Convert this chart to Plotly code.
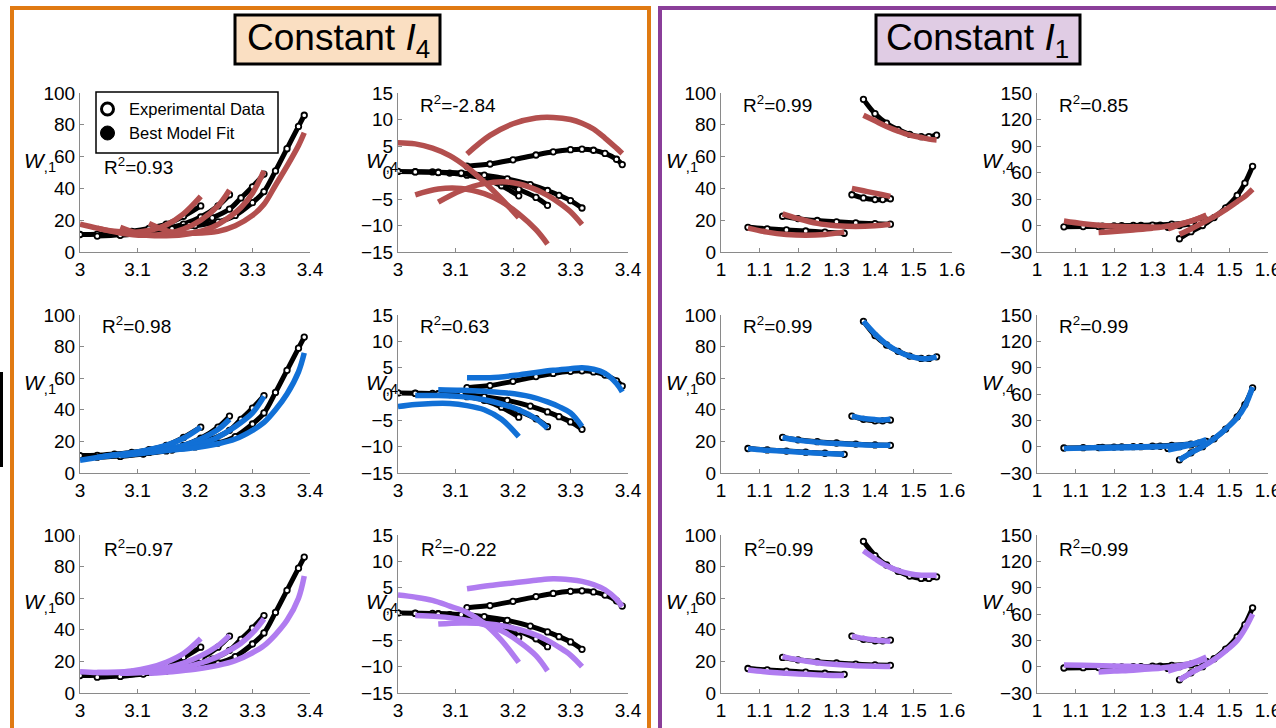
import plotly.graph_objects as go

# ---------------- tick definitions ----------------
I1_TICKVALS = [3.0, 3.1, 3.2, 3.3, 3.4]
I1_TICKTEXT = ["3", "3.1", "3.2", "3.3", "3.4"]
I4_TICKVALS = [1.0, 1.1, 1.2, 1.3, 1.4, 1.5, 1.6]
I4_TICKTEXT = ["1", "1.1", "1.2", "1.3", "1.4", "1.5", "1.6"]
W1_TICKS = [0, 20, 40, 60, 80, 100]
W4_TICKS_I4 = [-15, -10, -5, 0, 5, 10, 15]
W4_TICKS_I1 = [-30, 0, 30, 60, 90, 120, 150]

# ---------------- Constant I4 (x = I1) ----------------
EXP_I4_X = [
    [3.00, 3.03, 3.06, 3.09, 3.12, 3.15, 3.18, 3.21],
    [3.03, 3.07, 3.11, 3.15, 3.18, 3.21, 3.24, 3.26],
    [3.07, 3.11, 3.15, 3.19, 3.23, 3.26, 3.28, 3.30, 3.32],
    [3.12, 3.16, 3.20, 3.24, 3.27, 3.30, 3.32, 3.34, 3.36, 3.38, 3.39],
]
EXP_I4_W1 = [
    [11, 11.2, 12, 13, 14.8, 17.5, 22.5, 29],
    [10, 10.8, 12.3, 14.8, 17.5, 22, 29, 36],
    [10.5, 12, 14, 17, 21.5, 27, 34, 41, 49],
    [13, 14.5, 16.5, 19, 23, 31, 38, 51, 65, 79, 86],
]
EXP_I4_W4 = [
    [0.2, 0.15, 0.1, -0.1, -0.5, -1.2, -2.5, -4.4],
    [0.1, 0.05, -0.2, -0.9, -1.8, -3.2, -4.7, -6.2],
    [0, -0.1, -0.5, -1.2, -2.3, -3.4, -4.3, -5.3, -6.7],
    [1.2, 1.6, 2.4, 3.3, 3.9, 4.3, 4.4, 4.2, 3.6, 2.5, 1.5],
]
FIT_RED_I4_W1 = [
    [17.5, 15, 13, 12.3, 13.5, 17, 24, 35],
    [15, 12, 10.5, 11.5, 14.5, 20, 29, 39],
    [15.5, 10.8, 10.2, 11.5, 15.5, 22, 28, 37, 51],
    [18, 12.5, 11.8, 13, 16.5, 23, 30, 42, 54, 67, 75],
]
FIT_RED_I4_W4 = [
    [5.6, 5.4, 4.6, 3.2, 1, -1.8, -5, -8.5],
    [-4.2, -3.1, -3.0, -4, -5.5, -7.8, -10.8, -13.5],
    [-5.6, -3.4, -2.1, -1.8, -2.8, -4.3, -5.7, -7.4, -9.8],
    [3.5, 7, 9.2, 10.3, 10.4, 10, 9.3, 8.2, 6.5, 4.6, 3.6],
]
FIT_BLUE_I4_W1 = [
    [8, 9.8, 11.5, 12.8, 14.8, 17.5, 22, 29],
    [10, 11.5, 13, 15, 17.5, 21.5, 27.5, 34],
    [11, 12.5, 14.5, 17, 21, 27, 32, 38, 48.5],
    [13, 14.5, 16, 18.5, 21.5, 27, 32, 40, 50, 64, 76],
]
FIT_BLUE_I4_W4 = [
    [-2.4, -2.0, -1.8, -1.8, -2.2, -3.0, -4.8, -8.1],
    [-0.3, -0.3, -0.5, -1.1, -1.9, -3, -4.7, -6.5],
    [0.8, 0.7, 0.5, 0.2, -0.5, -1.5, -2.4, -3.6, -6.2],
    [3.1, 3.1, 3.5, 4.1, 4.5, 4.8, 5.0, 4.7, 3.9, 2.0, 0.4],
]
FIT_PURPLE_I4_W1 = [
    [13.5, 13, 13.2, 14, 16, 19.5, 25, 34.5],
    [13, 13, 14, 16, 19, 23.5, 30, 36.5],
    [12.5, 13, 14.5, 17, 21.5, 27, 31.5, 38, 47],
    [12.5, 13.5, 15, 17.5, 20.5, 25.5, 30, 37, 46, 60, 74],
]
FIT_PURPLE_I4_W4 = [
    [3.6, 3.2, 2.6, 1.5, 0.3, -1.8, -5, -9.2],
    [-0.3, -0.5, -1, -2, -3.2, -5.2, -7.9, -10.8],
    [-1.9, -1.7, -1.8, -2.4, -3.6, -5, -6.3, -7.8, -10],
    [4.8, 5.4, 5.9, 6.4, 6.7, 6.5, 6.2, 5.6, 4.6, 2.8, 1.4],
]

# ---------------- Constant I1 (x = I4) ----------------
EXP_I1_X = [
    [1.07, 1.12, 1.17, 1.22, 1.27, 1.32],
    [1.16, 1.20, 1.25, 1.30, 1.35, 1.40, 1.44],
    [1.34, 1.37, 1.40, 1.42, 1.44],
    [1.37, 1.40, 1.43, 1.46, 1.49, 1.52, 1.54, 1.56],
]
EXP_I1_W1 = [
    [15.5, 14.6, 13.9, 13.2, 12.5, 11.8],
    [22.5, 21, 19.8, 19, 18.3, 17.8, 17.5],
    [36, 34, 33, 33, 33.5],
    [96, 87, 81, 77, 74, 72.5, 72.5, 73.5],
]
EXP_I1_W4 = [
    [-1.5, -1.2, -0.8, -0.3, 0, 0.5],
    [-1, -0.5, 0, 0.5, 1.5, 3, 5],
    [-2, 0, 2, 4, 6],
    [-15, -7, 0, 9, 20, 34, 48, 67],
]
FIT_RED_I1_W1 = [
    [15, 12.5, 11, 10.5, 11, 12.5],
    [24, 21, 18, 16.5, 16, 16.5, 17.5],
    [40, 38.5, 37, 36, 35],
    [86, 82.5, 79, 76, 73.5, 72, 71, 70.5],
]
FIT_RED_I1_W4 = [
    [5, 2, 0, -1, -1.5, -2],
    [-8, -6.8, -5, -3, 0, 5, 12],
    [-4, 1, 5, 8, 11],
    [-10, -4, 3, 10, 18, 27, 33, 41],
]
FIT_BLUE_I1_W1 = [
    [15.3, 14.4, 13.7, 13, 12.4, 11.8],
    [22.5, 20.8, 19.5, 18.6, 18, 17.6, 17.5],
    [36, 34.5, 33.8, 33.6, 34],
    [96, 88, 81.5, 77, 74, 72.5, 72.5, 73.5],
]
FIT_BLUE_I1_W4 = [
    [-2, -1.5, -1, -0.5, 0, 0.3],
    [-2, -1.5, -1, 0, 1, 3, 6],
    [-4, -1, 2, 5, 8],
    [-15, -7, 0, 9, 20, 33, 46, 68],
]
FIT_PURPLE_I1_W1 = [
    [14.5, 13.3, 12.5, 11.8, 11.3, 11],
    [23, 21, 19.2, 18, 17.3, 16.9, 16.8],
    [36, 34.5, 33.5, 33, 32.8],
    [90, 85, 80.5, 77.5, 75.5, 74.5, 74.5, 74.5],
]
FIT_PURPLE_I1_W4 = [
    [2, 1.5, 1, 0.5, 0, -1],
    [-6, -5, -4, -2.5, 0, 4, 11],
    [-5, -1, 3, 6, 9],
    [-15, -7, 0, 8, 18, 30, 43, 60],
]

R2_LABELS = [
    ["0.93", "-2.84", "0.99", "0.85"],
    ["0.98", "0.63", "0.99", "0.99"],
    ["0.97", "-0.22", "0.99", "0.99"],
]
FIT_COLORS = ["#B34F4E", "#1170D6", "#B07CF0"]

# ---------------- layout helpers ----------------
W, H = 1276, 728
def fx(p):
    return p / W
def fy(p):
    return 1 - p / H

COL_X = [(80, 310), (398, 628), (721, 952), (1037, 1268)]
ROW_Y = [(93, 252), (315, 473), (535, 693)]
R2_POS = [
    [(102, 166), (418, 104), (741, 104), (1057, 104)],
    [(100, 325), (418, 325), (741, 325), (1057, 325)],
    [(102, 548), (419, 548), (742, 548), (1057, 548)],
]
WLAB_X = [22, 364, 664, 980]
WLAB_Y = [162, 384, 603]

FONT = "Arial, 'Liberation Sans', sans-serif"
AXCOL = "#8a8a8a"

fig = go.Figure()

col_specs = [
    dict(xr=[3, 3.4], xt=(I1_TICKVALS, I1_TICKTEXT), yr=[0, 100], yt=W1_TICKS,
         ex=EXP_I4_X, ey=EXP_I4_W1, fits=[FIT_RED_I4_W1, FIT_BLUE_I4_W1, FIT_PURPLE_I4_W1], lab="1"),
    dict(xr=[3, 3.4], xt=(I1_TICKVALS, I1_TICKTEXT), yr=[-15, 15], yt=W4_TICKS_I4,
         ex=EXP_I4_X, ey=EXP_I4_W4, fits=[FIT_RED_I4_W4, FIT_BLUE_I4_W4, FIT_PURPLE_I4_W4], lab="4"),
    dict(xr=[1, 1.6], xt=(I4_TICKVALS, I4_TICKTEXT), yr=[0, 100], yt=W1_TICKS,
         ex=EXP_I1_X, ey=EXP_I1_W1, fits=[FIT_RED_I1_W1, FIT_BLUE_I1_W1, FIT_PURPLE_I1_W1], lab="1"),
    dict(xr=[1, 1.6], xt=(I4_TICKVALS, I4_TICKTEXT), yr=[-30, 150], yt=W4_TICKS_I1,
         ex=EXP_I1_X, ey=EXP_I1_W4, fits=[FIT_RED_I1_W4, FIT_BLUE_I1_W4, FIT_PURPLE_I1_W4], lab="4"),
]

annotations = []
layout_axes = {}
for r in range(3):
    for c in range(4):
        idx = r * 4 + c + 1
        sfx = "" if idx == 1 else str(idx)
        spec = col_specs[c]
        xa, ya = "x" + sfx, "y" + sfx
        # experimental data
        for xs, ys in zip(spec["ex"], spec["ey"]):
            fig.add_trace(go.Scatter(
                x=xs, y=ys, xaxis=xa, yaxis=ya, mode="lines+markers",
                line=dict(color="black", width=5, shape="spline"),
                marker=dict(symbol="circle", size=5.5, color="white",
                            line=dict(color="black", width=1.8)),
                showlegend=False, hoverinfo="skip"))
        # best model fit
        for xs, ys in zip(spec["ex"], spec["fits"][r]):
            fig.add_trace(go.Scatter(
                x=xs, y=ys, xaxis=xa, yaxis=ya, mode="lines",
                line=dict(color=FIT_COLORS[r], width=5.5, shape="spline"),
                showlegend=False, hoverinfo="skip"))
        x0, x1 = COL_X[c]
        y0, y1 = ROW_Y[r]
        layout_axes["xaxis" + sfx] = dict(
            domain=[fx(x0), fx(x1)], range=spec["xr"], anchor=ya, automargin=False,
            tickvals=spec["xt"][0], ticktext=spec["xt"][1], ticklabeloverflow="allow",
            showline=True, linecolor=AXCOL, linewidth=1, mirror=False,
            ticks="inside", ticklen=4, tickcolor=AXCOL, showgrid=False, zeroline=False,
            tickfont=dict(family=FONT, size=19, color="black"), ticklabelstandoff=0)
        layout_axes["yaxis" + sfx] = dict(
            domain=[fy(y1), fy(y0)], range=spec["yr"], anchor=xa, automargin=False,
            tickvals=spec["yt"],
            showline=True, linecolor=AXCOL, linewidth=1,
            ticks="inside", ticklen=4, tickcolor=AXCOL, showgrid=False, zeroline=False,
            tickfont=dict(family=FONT, size=19, color="black"), ticklabelstandoff=0)
        # R^2 labels
        px, py = R2_POS[r][c]
        annotations.append(dict(
            x=fx(px), y=fy(py), xref="paper", yref="paper", xanchor="left", yanchor="middle",
            text="R<sup>2</sup>=" + R2_LABELS[r][c], showarrow=False,
            font=dict(family=FONT, size=19, color="black")))
        # W axis labels
        annotations.append(dict(
            x=fx(WLAB_X[c]), y=fy(WLAB_Y[r]), xref="paper", yref="paper",
            xanchor="left", yanchor="middle",
            text="<i>W</i><sub>,%s</sub>" % spec["lab"], showarrow=False,
            font=dict(family=FONT, size=21, color="black")))

TITLE_FONT = "Arial, 'Liberation Sans', sans-serif"
shapes = [
    # panel frames
    dict(type="rect", xref="paper", yref="paper", x0=fx(12), x1=fx(649), y0=fy(8), y1=fy(760),
         line=dict(color="#E07A12", width=4)),
    dict(type="rect", xref="paper", yref="paper", x0=fx(660), x1=fx(1300), y0=fy(8), y1=fy(760),
         line=dict(color="#8A3E99", width=4)),
    # title boxes
    dict(type="rect", xref="paper", yref="paper", x0=fx(235), x1=fx(440), y0=fy(15), y1=fy(64),
         fillcolor="#FADFC2", line=dict(color="black", width=3)),
    dict(type="rect", xref="paper", yref="paper", x0=fx(876), x1=fx(1080), y0=fy(15), y1=fy(64),
         fillcolor="#E0CCE4", line=dict(color="black", width=3)),
    # legend box
    dict(type="rect", xref="paper", yref="paper", x0=fx(96), x1=fx(278), y0=fy(92), y1=fy(153),
         fillcolor="white", line=dict(color="black", width=1.5)),
    dict(type="circle", xref="paper", yref="paper", x0=fx(101.5), x1=fx(113.5), y0=fy(103), y1=fy(115),
         fillcolor="white", line=dict(color="black", width=3)),
    dict(type="circle", xref="paper", yref="paper", x0=fx(100.5), x1=fx(114.5), y0=fy(126), y1=fy(140),
         fillcolor="black", line=dict(color="black", width=1)),
    # cut-off element at the left edge
    dict(type="line", xref="paper", yref="paper", x0=fx(1.5), x1=fx(1.5), y0=fy(372), y1=fy(467),
         line=dict(color="black", width=3)),
]
annotations += [
    dict(x=fx(338), y=fy(40), xref="paper", yref="paper", xanchor="center", yanchor="middle",
         text="Constant <i>I</i><sub>4</sub>", showarrow=False,
         font=dict(family=TITLE_FONT, size=37, color="black")),
    dict(x=fx(978), y=fy(40), xref="paper", yref="paper", xanchor="center", yanchor="middle",
         text="Constant <i>I</i><sub>1</sub>", showarrow=False,
         font=dict(family=TITLE_FONT, size=37, color="black")),
    dict(x=fx(127), y=fy(109), xref="paper", yref="paper", xanchor="left", yanchor="middle",
         text="Experimental Data", showarrow=False,
         font=dict(family=FONT, size=16.5, color="black")),
    dict(x=fx(127), y=fy(133), xref="paper", yref="paper", xanchor="left", yanchor="middle",
         text="Best Model Fit", showarrow=False,
         font=dict(family=FONT, size=16.5, color="black")),
]

fig.update_layout(
    width=W, height=H, margin=dict(l=0, r=0, t=0, b=0, pad=0), autosize=False,
    paper_bgcolor="white", plot_bgcolor="rgba(0,0,0,0)",
    showlegend=False, shapes=shapes, annotations=annotations,
    font=dict(family=FONT, color="black"),
    **layout_axes)

# remove the browser's default page margin so the figure sits at the window origin
fig.write_html("out.html", config={"displayModeBar": False},
               post_script="document.body.style.margin='0';document.body.style.overflow='hidden';")
